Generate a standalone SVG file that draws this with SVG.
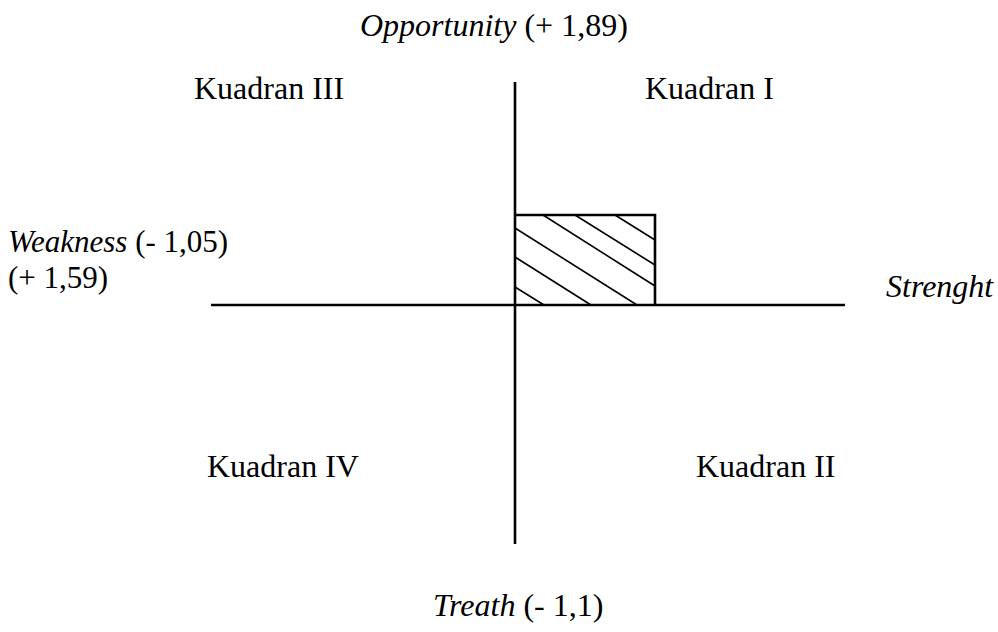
<svg xmlns="http://www.w3.org/2000/svg" width="998" height="632" viewBox="0 0 998 632">
<style>
text{font-family:"Liberation Serif","Times New Roman",serif;font-size:32px;fill:#000}
.i{font-style:italic}
.s{font-size:31px}
.ax{stroke:#000;stroke-width:2.6;fill:none}
.h{stroke:#000;stroke-width:1.6;fill:none}
</style>
<rect width="998" height="632" fill="#fff"/>
<g id="axes">
<line class="ax" x1="515" y1="82" x2="515" y2="544"/>
<line class="ax" x1="211" y1="305" x2="845" y2="305"/>
</g>
<g id="hatch-area">
<line class="h" x1="543" y1="215" x2="655" y2="286"/>
<line class="h" x1="575" y1="215" x2="655" y2="265"/>
<line class="h" x1="615" y1="215" x2="655" y2="240"/>
<line class="h" x1="515" y1="228" x2="637" y2="305"/>
<line class="h" x1="515" y1="257" x2="591" y2="305"/>
<line class="h" x1="515" y1="287" x2="544" y2="305"/>
<polyline class="ax" points="515,215 655,215 655,305"/>
</g>
<g id="opportunity"><text x="360" y="36"><tspan class="i">Opportunity</tspan> (+ 1,89)</text></g>
<g id="q3"><text x="194" y="99">Kuadran III</text></g>
<g id="q1"><text x="645" y="99">Kuadran I</text></g>
<g id="weakness"><text class="s" x="8" y="252"><tspan class="i">Weakness</tspan> (- 1,05)</text><text class="s" x="8" y="288">(+ 1,59)</text></g>
<g id="strength"><text class="i" x="886" y="297">Strenght</text></g>
<g id="q4"><text x="207" y="477">Kuadran IV</text></g>
<g id="q2"><text x="696" y="477">Kuadran II</text></g>
<g id="threat"><text x="433" y="616"><tspan class="i">Treath</tspan> (- 1,1)</text></g>
</svg>
